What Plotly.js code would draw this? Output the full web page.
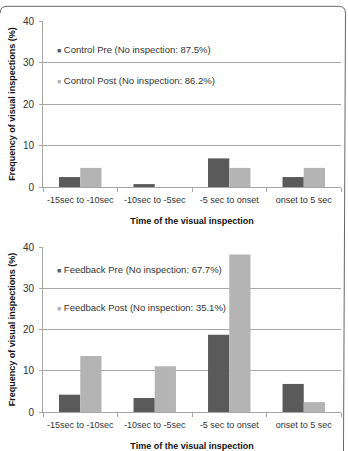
<!DOCTYPE html>
<html>
<head>
<meta charset="utf-8">
<script src="https://cdn.plot.ly/plotly-3.0.1.min.js"></script>
<style>html,body{margin:0;padding:0;background:#fff;}#chart{width:348px;height:451px;}</style>
</head>
<body>
<div id="chart"></div>
<script>
// ---- data ----
var categories = ["-15sec to -10sec", "-10sec to -5sec", "-5 sec to onset", "onset to 5 sec"];
var controlPre = [2.4, 0.7, 6.9, 2.4];
var controlPost = [4.6, 0, 4.6, 4.6];
var feedbackPre = [4.2, 3.4, 18.7, 6.8];
var feedbackPost = [13.6, 11.1, 38.2, 2.4];
var seriesNames = [
  "Control Pre (No inspection: 87.5%)",
  "Control Post (No inspection: 86.2%)",
  "Feedback Pre (No inspection: 67.7%)",
  "Feedback Post (No inspection: 35.1%)"
];
var yTickVals = [0, 10, 20, 30, 40];
var xTitle = "Time of the visual inspection";
var yTitle = "Frequency of visual inspections (%)";

// ---- style ----
var darkCol = "#5a5a5a";
var lightCol = "#b4b4b4";
var textCol = "#333333";
var gridCol = "#a6a6a6";
var FONT = "Liberation Sans, Arial, sans-serif";

var W = 348, H = 451;
var M = {l: 43, r: 6.5, t: 20.7, b: 39.3};
var PW = W - M.l - M.r, PH = H - M.t - M.b;
function px(x) { return (x - M.l) / PW; }
function py(y) { return 1 - (y - M.t) / PH; }

function bar(y, color, xa, ya, name) {
  return {type: "bar", x: categories, y: y, name: name, marker: {color: color},
    xaxis: xa, yaxis: ya, showlegend: false, hoverinfo: "y"};
}

var data = [
  bar(controlPre, darkCol, "x", "y", seriesNames[0]),
  bar(controlPost, lightCol, "x", "y", seriesNames[1]),
  bar(feedbackPre, darkCol, "x2", "y2", seriesNames[2]),
  bar(feedbackPost, lightCol, "x2", "y2", seriesNames[3])
];

function xaxis(anchor) {
  return {
    anchor: anchor, domain: [0, 1], type: "category",
    showline: true, linecolor: gridCol, linewidth: 1,
    ticks: "outside", tickson: "boundaries", ticklen: 4, tickcolor: gridCol,
    tickangle: 0, ticklabelstandoff: 4,
    tickfont: {family: FONT, size: 9, color: textCol},
    showgrid: false, zeroline: false,
    title: {text: xTitle, font: {family: FONT, size: 9, color: "#111", weight: "bold"}, standoff: 13}
  };
}
function yaxis(anchor, dom) {
  return {
    anchor: anchor, domain: dom, range: [0, 40], tickvals: yTickVals,
    showline: true, linecolor: gridCol, linewidth: 1,
    ticks: "outside", ticklen: 3, tickcolor: gridCol, ticklabelstandoff: 3,
    showgrid: true, gridcolor: gridCol, gridwidth: 1, zeroline: false,
    tickfont: {family: FONT, size: 10, color: textCol},
    title: {text: yTitle, font: {family: FONT, size: 9, color: "#111", weight: "bold"}, standoff: 5}
  };
}

function legendAnn(name, color, x, y) {
  return {xref: "paper", yref: "paper", x: px(x), y: py(y), xanchor: "left", yanchor: "middle",
    showarrow: false, align: "left",
    text: "<span style='color:" + color + ";font-size:7px'>■</span> " + name,
    font: {family: FONT, size: 9.5, color: textCol}};
}

var framePath = "M" + px(0) + "," + py(13) +
  " Q" + px(0) + "," + py(6) + " " + px(7) + "," + py(6) +
  " L" + px(339) + "," + py(6) +
  " Q" + px(346) + "," + py(6) + " " + px(346) + "," + py(13) +
  " L" + px(344) + "," + py(451);

var layout = {
  width: W, height: H,
  margin: M,
  paper_bgcolor: "#fff", plot_bgcolor: "#fff",
  barmode: "group", bargap: 0.43, bargroupgap: 0,
  showlegend: false,
  xaxis: xaxis("y"),
  yaxis: yaxis("x", [py(186.7), 1]),
  xaxis2: xaxis("y2"),
  yaxis2: yaxis("x2", [0, py(246.7)]),
  annotations: [
    legendAnn(seriesNames[0], darkCol, 55, 49),
    legendAnn(seriesNames[1], lightCol, 55, 80.5),
    legendAnn(seriesNames[2], darkCol, 55, 269.5),
    legendAnn(seriesNames[3], lightCol, 55, 307.5)
  ],
  shapes: [
    {type: "path", xref: "paper", yref: "paper", path: framePath,
     line: {color: "#666", width: 1}}
  ]
};

Plotly.newPlot("chart", data, layout, {displayModeBar: false, staticPlot: true});
</script>
</body>
</html>
